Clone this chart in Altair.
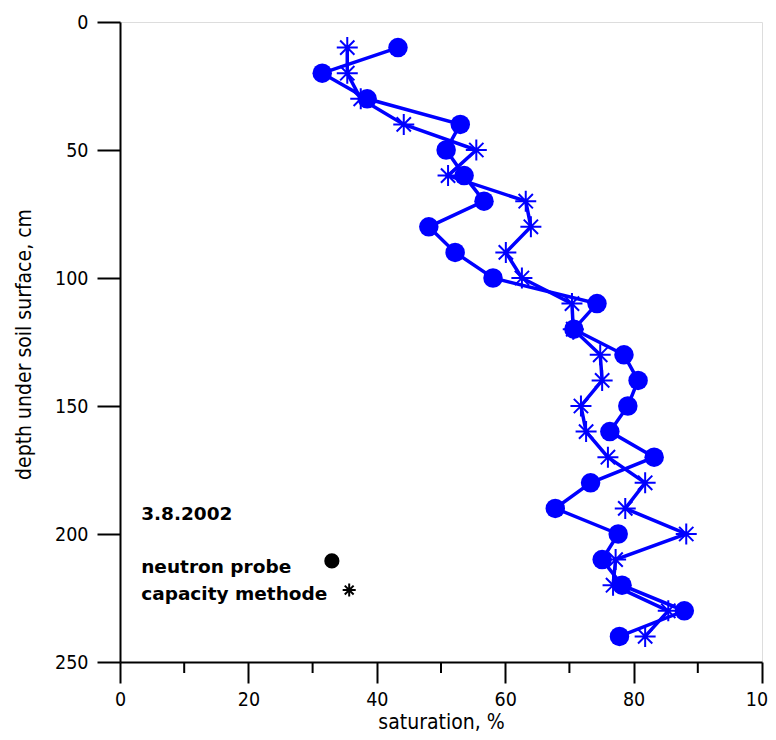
import altair as alt
import pandas as pd

depth = [10, 20, 30, 40, 50, 60, 70, 80, 90, 100, 110, 120,
         130, 140, 150, 160, 170, 180, 190, 200, 210, 220, 230, 240]
neutron = [43.3, 31.5, 38.5, 53.0, 50.8, 53.6, 56.7, 48.1, 52.2, 58.1, 74.3, 70.7,
           78.5, 80.7, 79.1, 76.3, 83.2, 73.3, 67.8, 77.6, 75.1, 78.2, 87.9, 77.8]
capacity = [35.4, 35.4, 37.5, 44.2, 55.5, 51.1, 63.2, 64.0, 60.1, 62.6, 70.4, 70.6,
            74.8, 75.1, 71.8, 72.6, 76.0, 81.8, 78.7, 88.2, 77.2, 76.8, 85.4, 81.8]

minor_ticks = [10, 30, 50, 70, 90]
x_ticks = [0, 20, 40, 60, 80, 100]
y_ticks = [0, 50, 100, 150, 200, 250]

legend_texts = ["3.8.2002", "neutron probe", "capacity methode"]
legend_text_x = [3.3, 3.3, 3.3]
legend_text_y = [194.5, 215.1, 225.8]

BLUE = "#0000ff"
STAR = "M0,-1L0,1M-1,0L1,0M-0.68,-0.68L0.68,0.68M-0.68,0.68L0.68,-0.68"

df_n = pd.DataFrame({"depth": depth, "sat": neutron})
df_c = pd.DataFrame({"depth": depth, "sat": capacity})
df_minor = pd.DataFrame({"sat": minor_ticks})
df_leg = pd.DataFrame({"sat": legend_text_x, "depth": legend_text_y, "label": legend_texts})
df_sym_c = pd.DataFrame({"sat": [33.0], "depth": [210.5]})
df_sym_s = pd.DataFrame({"sat": [35.7], "depth": [221.9]})

xs = alt.Scale(domain=[0, 100], nice=False, zero=False)
ys = alt.Scale(domain=[0, 250], reverse=True, nice=False, zero=False)

x_enc = alt.X("sat:Q", scale=xs, title="saturation, %",
              axis=alt.Axis(values=x_ticks, grid=False, tickSize=21, tickWidth=2,
                            domainWidth=2, domainColor="black", tickColor="black",
                            labelFont="DejaVu Sans Condensed", labelFontSize=19.5,
                            labelColor="black", labelPadding=7,
                            labelFlush=False, labelOverlap=False, labelBound=False,
                            titleFont="DejaVu Sans Condensed", titleFontSize=21,
                            titleFontWeight="normal", titleColor="black",
                            titleBaseline="alphabetic", titleY=66))
y_enc = alt.Y("depth:Q", scale=ys, title="depth under soil surface, cm",
              axis=alt.Axis(values=y_ticks, grid=False, tickSize=23, tickWidth=2,
                            domainWidth=2, domainColor="black", tickColor="black",
                            labelFont="DejaVu Sans Condensed", labelFontSize=19.5,
                            labelColor="black", labelPadding=9,
                            labelFlush=False, labelOverlap=False, labelBound=False,
                            titleFont="DejaVu Sans Condensed", titleFontSize=21,
                            titleFontWeight="normal", titleColor="black",
                            titleX=-86, titleY=322))

line_n = alt.Chart(df_n).mark_line(color=BLUE, strokeWidth=3.5).encode(
    x=x_enc, y=y_enc, order="depth:Q")
line_c = alt.Chart(df_c).mark_line(color=BLUE, strokeWidth=3.5).encode(
    x=alt.X("sat:Q", scale=xs), y=alt.Y("depth:Q", scale=ys), order="depth:Q")
pts_n = alt.Chart(df_n).mark_point(shape="circle", filled=True, color=BLUE,
                                   size=380, opacity=1).encode(
    x=alt.X("sat:Q", scale=xs), y=alt.Y("depth:Q", scale=ys))
pts_c = alt.Chart(df_c).mark_point(shape=STAR, filled=False, color=BLUE,
                                   size=441, strokeWidth=2, opacity=1).encode(
    x=alt.X("sat:Q", scale=xs), y=alt.Y("depth:Q", scale=ys))

minor = alt.Chart(df_minor).mark_rule(color="black", strokeWidth=2).encode(
    x=alt.X("sat:Q", scale=xs), y=alt.value(640), y2=alt.value(651))

leg_text = alt.Chart(df_leg).mark_text(align="left", baseline="alphabetic",
                                       font="DejaVu Sans", fontWeight="bold",
                                       fontSize=18.5, color="black").encode(
    x=alt.X("sat:Q", scale=xs), y=alt.Y("depth:Q", scale=ys), text="label:N")
leg_c = alt.Chart(df_sym_c).mark_point(shape="circle", filled=True, color="black",
                                       size=230, opacity=1).encode(
    x=alt.X("sat:Q", scale=xs), y=alt.Y("depth:Q", scale=ys))
leg_s = alt.Chart(df_sym_s).mark_point(shape=STAR, filled=False, color="black",
                                       size=170, strokeWidth=2, opacity=1).encode(
    x=alt.X("sat:Q", scale=xs), y=alt.Y("depth:Q", scale=ys))

chart = alt.layer(line_n, line_c, pts_n, pts_c, minor, leg_text, leg_c, leg_s).properties(
    width=642, height=640,
    autosize=alt.AutoSizeParams(type="none"),
    padding={"left": 112, "top": 14, "right": 6, "bottom": 70},
).configure_view(stroke=None).configure(background="white")

chart.save("out.html", embed_options={"renderer": "svg", "actions": False})
